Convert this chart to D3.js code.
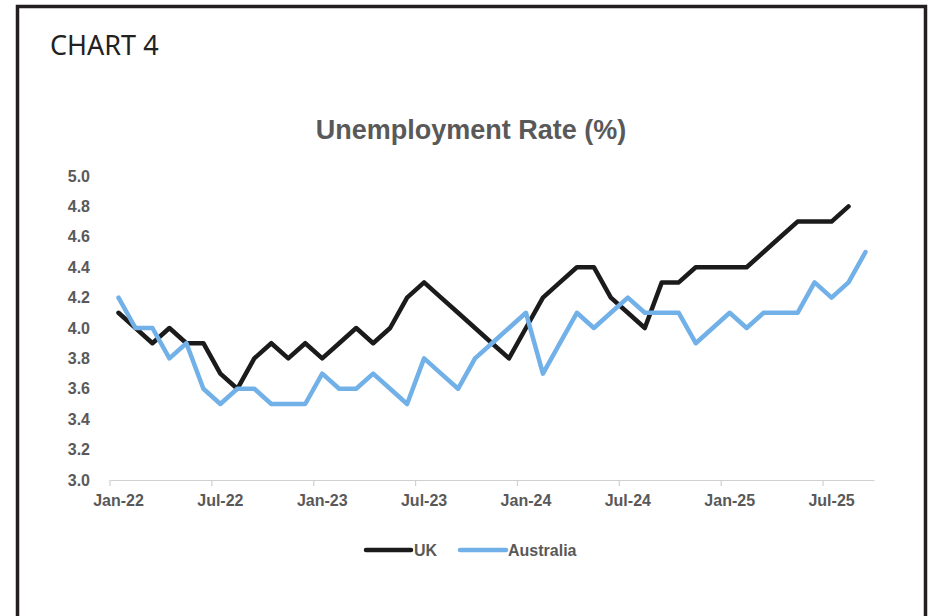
<!DOCTYPE html>
<html>
<head>
<meta charset="utf-8">
<script src="https://cdn.jsdelivr.net/npm/d3@7"></script>
<style>
  html, body { margin: 0; padding: 0; background: #fff; }
  svg { display: block; }
</style>
</head>
<body>
<svg id="chart" width="928" height="616"></svg>
<script>
// ---- data ----
const months = ["Jan","Feb","Mar","Apr","May","Jun","Jul","Aug","Sep","Oct","Nov","Dec"];
const categories = [];
for (let y = 22; y <= 25; y++) for (let m = 0; m < 12; m++) {
  if (y === 25 && m > 8) break;
  categories.push(months[m] + "-" + y);
}
const ukValues = [
  4.1, 4.0, 3.9, 4.0, 3.9, 3.9, 3.7, 3.6, 3.8, 3.9, 3.8, 3.9,
  3.8, 3.9, 4.0, 3.9, 4.0, 4.2, 4.3, 4.2, 4.1, 4.0, 3.9, 3.8,
  4.0, 4.2, 4.3, 4.4, 4.4, 4.2, 4.1, 4.0, 4.3, 4.3, 4.4, 4.4,
  4.4, 4.4, 4.5, 4.6, 4.7, 4.7, 4.7, 4.8, null
];
const auValues = [
  4.2, 4.0, 4.0, 3.8, 3.9, 3.6, 3.5, 3.6, 3.6, 3.5, 3.5, 3.5,
  3.7, 3.6, 3.6, 3.7, 3.6, 3.5, 3.8, 3.7, 3.6, 3.8, 3.9, 4.0,
  4.1, 3.7, 3.9, 4.1, 4.0, 4.1, 4.2, 4.1, 4.1, 4.1, 3.9, 4.0,
  4.1, 4.0, 4.1, 4.1, 4.1, 4.3, 4.2, 4.3, 4.5
];
const yTicks = [3.0, 3.2, 3.4, 3.6, 3.8, 4.0, 4.2, 4.4, 4.6, 4.8, 5.0];
const xTickLabels = ["Jan-22","Jul-22","Jan-23","Jul-23","Jan-24","Jul-24","Jan-25","Jul-25"];
const seriesNames = ["UK", "Australia"];
const seriesColors = ["#1b1b1b", "#72b1e8"];

// ---- layout ----
const svg = d3.select("#chart");
const plot = { left: 110, right: 874, top: 176, bottom: 480 };
const labelFont = "'Liberation Sans',Arial,sans-serif";
const gray = "#595959";

// frame
svg.append("path")
  .attr("d", "M17.5,620 L17.5,6.5 L925.5,6.5 L925.5,620")
  .attr("fill", "none").attr("stroke", "#231f20").attr("stroke-width", 3.5);

svg.append("text").attr("x", 50).attr("y", 55)
  .attr("font-family", "'Noto Sans',sans-serif").attr("font-size", 27)
  .attr("fill", "#222").text("CHART 4");

svg.append("text").attr("x", 471).attr("y", 139)
  .attr("text-anchor", "middle")
  .attr("font-family", labelFont).attr("font-weight", "bold")
  .attr("font-size", 27).attr("fill", gray).text("Unemployment Rate (%)");

// scales
const x = d3.scaleBand().domain(categories).range([plot.left, plot.right]).padding(0);
const y = d3.scaleLinear().domain([3.0, 5.0]).range([plot.bottom, plot.top]);
const cx = d => x(d) + x.bandwidth() / 2;

// y axis (labels only)
const yAxis = d3.axisLeft(y).tickValues(yTicks).tickFormat(d3.format(".1f")).tickSize(0).tickPadding(0);
const gy = svg.append("g").attr("transform", `translate(90,0)`).call(yAxis);
gy.select(".domain").remove();
gy.selectAll("text").attr("font-family", labelFont).attr("font-weight", "bold")
  .attr("font-size", 16).attr("fill", gray);

// x axis
const xAxis = d3.axisBottom(x).tickValues(xTickLabels).tickSize(0).tickPadding(15);
const gx = svg.append("g").attr("transform", `translate(0,${plot.bottom})`).call(xAxis);
gx.select(".domain").attr("stroke", "#d0d0d0").attr("stroke-width", 1.2);
gx.selectAll(".tick line").remove();
gx.selectAll("text").attr("font-family", labelFont).attr("font-weight", "bold")
  .attr("font-size", 16).attr("fill", gray);
// tick marks at the left edge of each labelled category
gx.selectAll(".tickmark").data(xTickLabels).enter().append("line")
  .attr("x1", d => x(d)).attr("x2", d => x(d))
  .attr("y1", 0).attr("y2", 6).attr("stroke", "#d0d0d0").attr("stroke-width", 1.2);

// lines
const seriesData = [ukValues, auValues];
const line = d3.line()
  .defined(d => d.v != null)
  .x(d => cx(d.c)).y(d => y(d.v));
seriesData.forEach((vals, i) => {
  const pts = categories.map((c, j) => ({ c, v: vals[j] }));
  svg.append("path").datum(pts)
    .attr("fill", "none").attr("stroke", seriesColors[i])
    .attr("stroke-width", 4.5).attr("stroke-linejoin", "round").attr("stroke-linecap", "round")
    .attr("d", line);
});

// legend
const legend = [
  { name: seriesNames[0], color: seriesColors[0], x1: 366, x2: 411, tx: 414 },
  { name: seriesNames[1], color: seriesColors[1], x1: 460, x2: 506, tx: 508 }
];
legend.forEach(l => {
  svg.append("line").attr("x1", l.x1).attr("x2", l.x2).attr("y1", 550).attr("y2", 550)
    .attr("stroke", l.color).attr("stroke-width", 4.5).attr("stroke-linecap", "round");
  svg.append("text").attr("x", l.tx).attr("y", 556)
    .attr("font-family", labelFont).attr("font-weight", "bold")
    .attr("font-size", 16).attr("fill", gray).text(l.name);
});
</script>
</body>
</html>
